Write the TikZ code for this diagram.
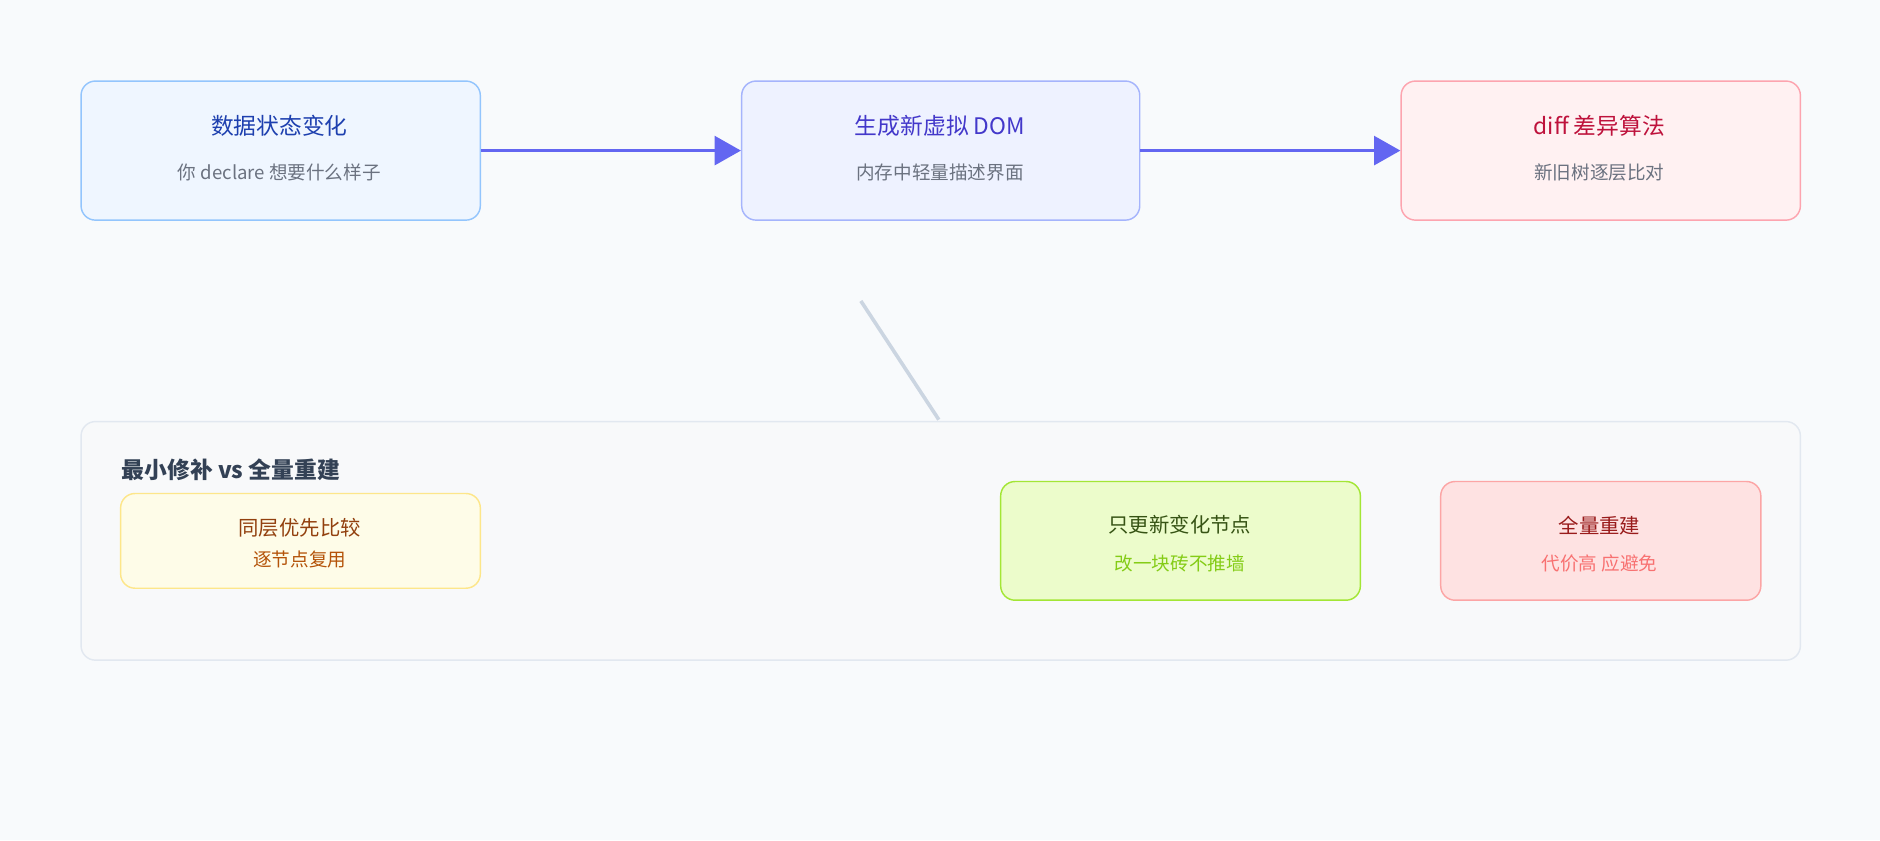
\documentclass[tikz,border=0pt]{standalone}
\usepackage{fontspec}
\setmainfont{Noto Sans CJK SC}
\usetikzlibrary{arrows.meta}
\definecolor{bgc}{HTML}{F8FAFC}
\definecolor{arrowc}{HTML}{6366F1}
\tikzset{
	box/.style={draw,rounded corners=12pt,line width=1.2pt,anchor=north west,inner sep=0pt},
	flow/.style={draw=arrowc,line width=3pt,-{Triangle[length=22pt,width=24pt]}},
	ttl/.style={font=\fontsize{19}{22}\selectfont},
	sub/.style={font=\fontsize{15.5}{18}\selectfont},
}
\begin{document}
\begin{tikzpicture}[x=1pt,y=-1pt]
	\fill[bgc] (0,0) rectangle (1568,701);
	\useasboundingbox (0,0) rectangle (1568,701);
	% top row
	\node[box,fill={rgb,255:red,239;green,246;blue,255},draw={rgb,255:red,147;green,197;blue,253},minimum width=333pt,minimum height=116pt] (data) at (67,67) {};
	\node[box,fill={rgb,255:red,238;green,242;blue,255},draw={rgb,255:red,165;green,180;blue,252},minimum width=332pt,minimum height=116pt] (vdom) at (618,67) {};
	\node[box,fill={rgb,255:red,255;green,241;blue,242},draw={rgb,255:red,253;green,164;blue,175},minimum width=333pt,minimum height=116pt] (diff) at (1168,67) {};
	\node[ttl,text={rgb,255:red,30;green,64;blue,175}] at (233,105) {数据状态变化};
	\node[sub,text={rgb,255:red,107;green,114;blue,128}] at (233,144) {你 declare 想要什么样子};
	\node[ttl,text={rgb,255:red,67;green,56;blue,202}] at (784,105) {生成新虚拟 DOM};
	\node[sub,text={rgb,255:red,107;green,114;blue,128}] at (784,144) {内存中轻量描述界面};
	\node[ttl,text={rgb,255:red,190;green,18;blue,60}] at (1334,105) {diff 差异算法};
	\node[sub,text={rgb,255:red,107;green,114;blue,128}] at (1334,144) {新旧树逐层比对};
	\draw[flow] (data.east) -- (vdom.west);
	\draw[flow] (vdom.east) -- (diff.west);
	% connector to group
	\coordinate (tail) at (718,251);
	\coordinate (head) at (783,350);
	\draw[draw={rgb,255:red,203;green,213;blue,225},line width=3pt] (tail) -- (head);
	% group
	\node[box,fill={rgb,255:red,248;green,249;blue,250},draw={rgb,255:red,226;green,232;blue,240},minimum width=1434pt,minimum height=199pt] (grp) at (67,351) {};
	\node[anchor=west,font=\fontsize{19}{22}\selectfont\bfseries,text={rgb,255:red,51;green,65;blue,85}] at (98,392) {最小修补 vs 全量重建};
	\node[box,fill={rgb,255:red,254;green,252;blue,232},draw={rgb,255:red,253;green,230;blue,138},minimum width=300pt,minimum height=79pt] (same) at (100,411) {};
	\node[font=\fontsize{17}{20}\selectfont,text={rgb,255:red,146;green,64;blue,14}] at (250,440) {同层优先比较};
	\node[sub,text={rgb,255:red,180;green,83;blue,9}] at (250,467) {逐节点复用};
	\node[box,fill={rgb,255:red,236;green,252;blue,203},draw={rgb,255:red,163;green,230;blue,53},minimum width=300pt,minimum height=99pt] (patch) at (834,401) {};
	\node[font=\fontsize{17}{20}\selectfont,text={rgb,255:red,54;green,83;blue,20}] at (984,438) {只更新变化节点};
	\node[sub,text={rgb,255:red,132;green,204;blue,22}] at (984,470) {改一块砖不推墙};
	\node[box,fill={rgb,255:red,254;green,226;blue,226},draw={rgb,255:red,252;green,165;blue,165},minimum width=267pt,minimum height=99pt] (full) at (1201,401) {};
	\node[font=\fontsize{17}{20}\selectfont,text={rgb,255:red,153;green,27;blue,27}] at (1334,438) {全量重建};
	\node[sub,text={rgb,255:red,248;green,113;blue,113}] at (1334,470) {代价高 应避免};
\end{tikzpicture}
\end{document}
